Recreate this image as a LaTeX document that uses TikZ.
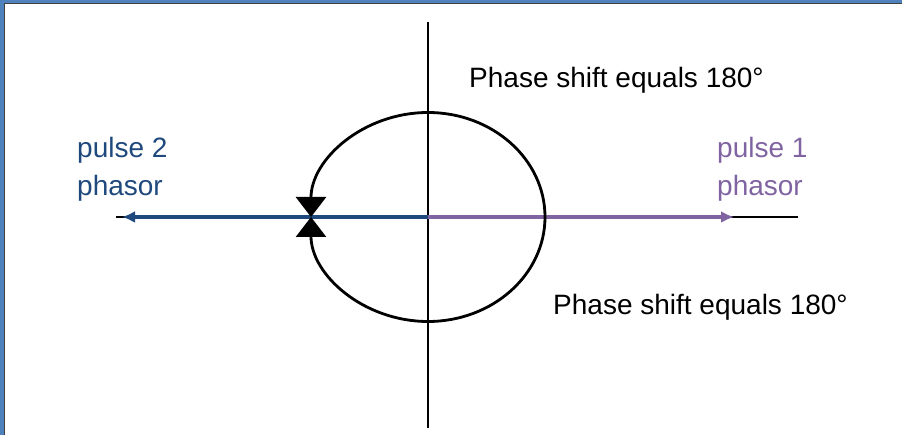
\documentclass[tikz,border=0pt]{standalone}
\usepackage{fontspec}
\setmainfont{Liberation Sans}
\usepackage{tikz}
\usetikzlibrary{arrows.meta}
\definecolor{frameBlue}{HTML}{4F81BD}
\definecolor{phasorBlue}{HTML}{1F497D}
\definecolor{phasorPurple}{HTML}{8064A2}

\begin{document}
\begin{tikzpicture}[x=1pt,y=-1pt,
  lbl/.style={inner sep=0pt, font=\fontsize{28}{38}\selectfont},
  axis/.style={line width=1.8pt, black},
  phasor/.style={line width=3.4pt, -{Latex[length=13pt,width=12pt]}},
  loop/.style={line width=2.8pt, -{Triangle[length=20pt,width=30pt]}}]
\useasboundingbox (0,0) rectangle (902,435);
% frame
\fill[frameBlue] (0,0) rectangle (902,3.5);
\fill[frameBlue] (0,0) rectangle (4.5,435);
\draw[black!75,line width=1pt] (4.5,435) -- (4.5,3.5) -- (902,3.5);
% axes
\coordinate (o) at (428,217);
\coordinate (ytop) at (428,22);
\coordinate (ybot) at (428,428);
\coordinate (xleft) at (116,217);
\coordinate (xright) at (798,217);
\coordinate (tip2) at (122,217);
\coordinate (tip1) at (734,217);
\coordinate (cr) at (545,217);
\draw[axis] (ytop) -- (ybot);
\draw[axis] (xleft) -- (xright);
\draw[phasor,phasorBlue] (o) -- (tip2);
\draw[phasor,phasorPurple] (o) -- (tip1);
% phase loops
\draw[loop] (cr) arc[start angle=0,end angle=180,x radius=117pt,y radius=104.5pt];
\draw[loop] (cr) arc[start angle=0,end angle=-180,x radius=117pt,y radius=104.5pt];
% labels
\node[lbl,anchor=base west] (shift1) at (469,88) {Phase shift equals 180°};
\node[lbl,anchor=base west] (shift2) at (553,315) {Phase shift equals 180°};
\node[lbl,align=left,anchor=north west,text=phasorBlue] (p2) at (77,137) {pulse 2\\phasor};
\node[lbl,align=left,anchor=north west,text=phasorPurple] (p1) at (717,137) {pulse 1\\phasor};
\end{tikzpicture}
\end{document}
